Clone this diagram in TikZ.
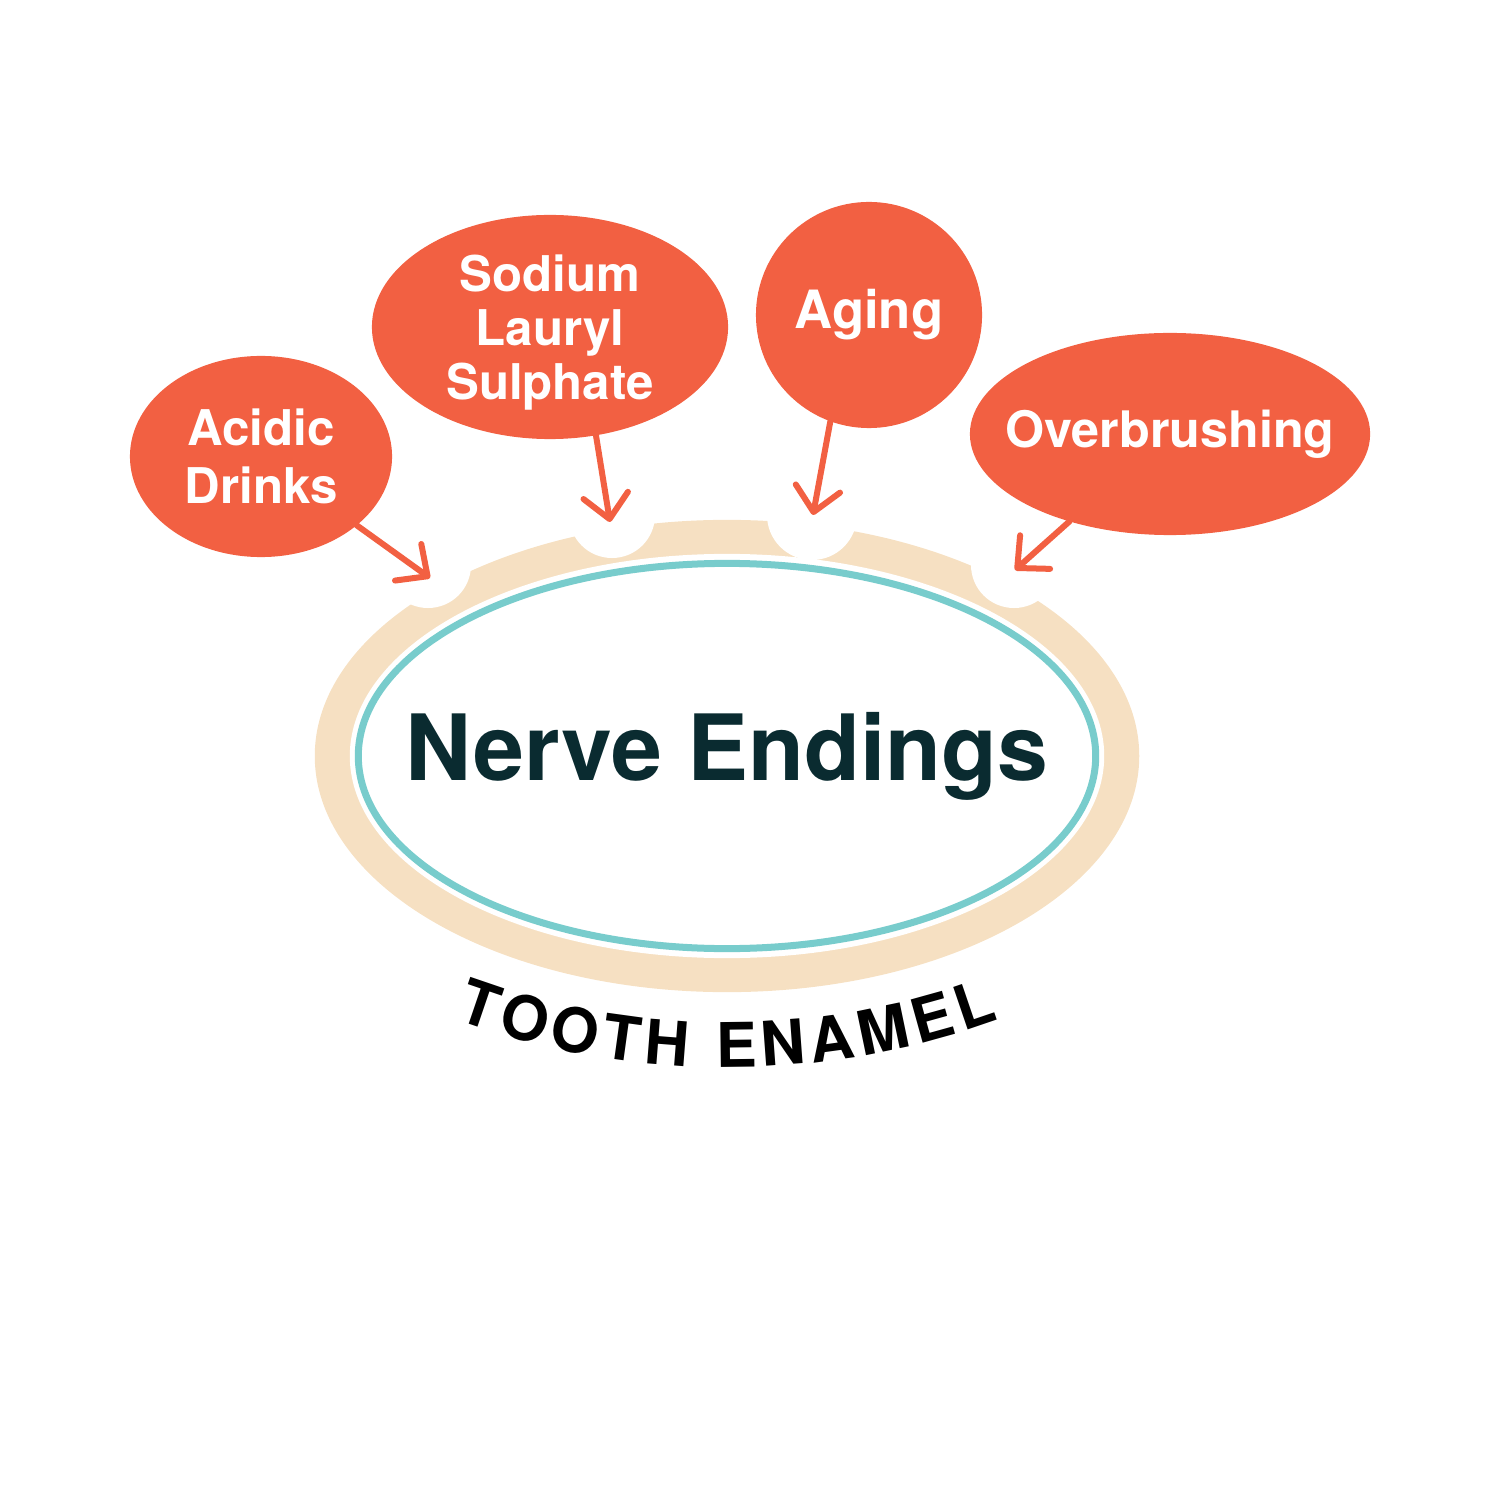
\documentclass[tikz,border=0pt]{standalone}
\usepackage{fontspec}
\setmainfont{TeX Gyre Heros}
\usetikzlibrary{shapes.geometric,arrows.meta,calc}
\definecolor{bubblec}{RGB}{242,96,66}
\definecolor{enamelc}{RGB}{246,224,194}
\definecolor{nervec}{RGB}{120,204,204}
\definecolor{nervetext}{RGB}{10,43,48}
\begin{document}
\begin{tikzpicture}[x=0.01cm,y=-0.01cm,
  bubble/.style={ellipse, fill=bubblec, inner sep=-0.6cm, outer sep=0pt, text=white,
    font=\bfseries\fontsize{14}{15.4}\selectfont, align=center},
  hit/.style={draw=bubblec, line width=0.06cm, line cap=round,
    -{Straight Barb[length=6.8pt,width=12.8pt,round]}},
  bite/.style={fill=white},
  letter/.style={font=\bfseries\fontsize{17.5}{17.5}\selectfont, text=black,
    inner sep=0pt, anchor=base}]
\useasboundingbox (0,0) rectangle (1501,1501);
% enamel band
\fill[enamelc] (727,756) ellipse [x radius=4.12cm, y radius=2.36cm];
\fill[white] (727,756) ellipse [x radius=3.77cm, y radius=2.02cm];
% bites
\fill[bite] (428,565) circle [radius=0.43cm];
\fill[bite] (612,515) circle [radius=0.43cm];
\fill[bite] (812,515) circle [radius=0.45cm];
\fill[bite] (1014,565) circle [radius=0.43cm];
% nerve
\node[ellipse, draw=nervec, line width=0.07cm, minimum width=7.37cm, minimum height=3.85cm,
  inner sep=-2.5cm, text=nervetext, font=\bfseries\fontsize{26}{26}\selectfont] (nerve) at (727,756) {Nerve Endings};
% bubbles
\node[bubble, minimum width=2.62cm, minimum height=2.01cm, font=\bfseries\fontsize{14}{16.5}\selectfont] (acid) at (261,456.5) {Acidic\\Drinks};
\node[bubble, minimum width=3.56cm, minimum height=2.24cm, text depth=0pt] (sls) at (550,327) {Sodium\\Lauryl\\Sulphate};
\node[bubble, minimum width=2.26cm, minimum height=2.26cm, font=\bfseries\fontsize{15}{15}\selectfont] (aging) at (869,315) {Aging};
\node[bubble, minimum width=4.00cm, minimum height=2.02cm, font=\bfseries\fontsize{14.3}{15}\selectfont] (over) at (1170,434) {Overbrushing};
% arrow tips
\coordinate (tA) at (430,578);
\coordinate (tB) at (610,522);
\coordinate (tC) at (813,515);
\coordinate (tD) at (1015,570);
\draw[hit] (acid) -- (tA);
\draw[hit] (sls.-67.5) -- (tB);
\draw[hit] (aging.-110) -- (tC);
\draw[hit] (over.-139) -- (tD);
% curved label
\coordinate (arcc) at (727,279);
\foreach \ch/\a [count=\i] in {T/-18.80, O/-15.28, O/-11.39, T/-7.87, H/-4.47, E/0.71, N/4.22, A/7.87, M/11.76, E/15.52, L/18.80}
  \node[letter, rotate=\a] (te\i) at ($(arcc)+(270+\a:7.88cm)$) {\ch};
\end{tikzpicture}
\end{document}
